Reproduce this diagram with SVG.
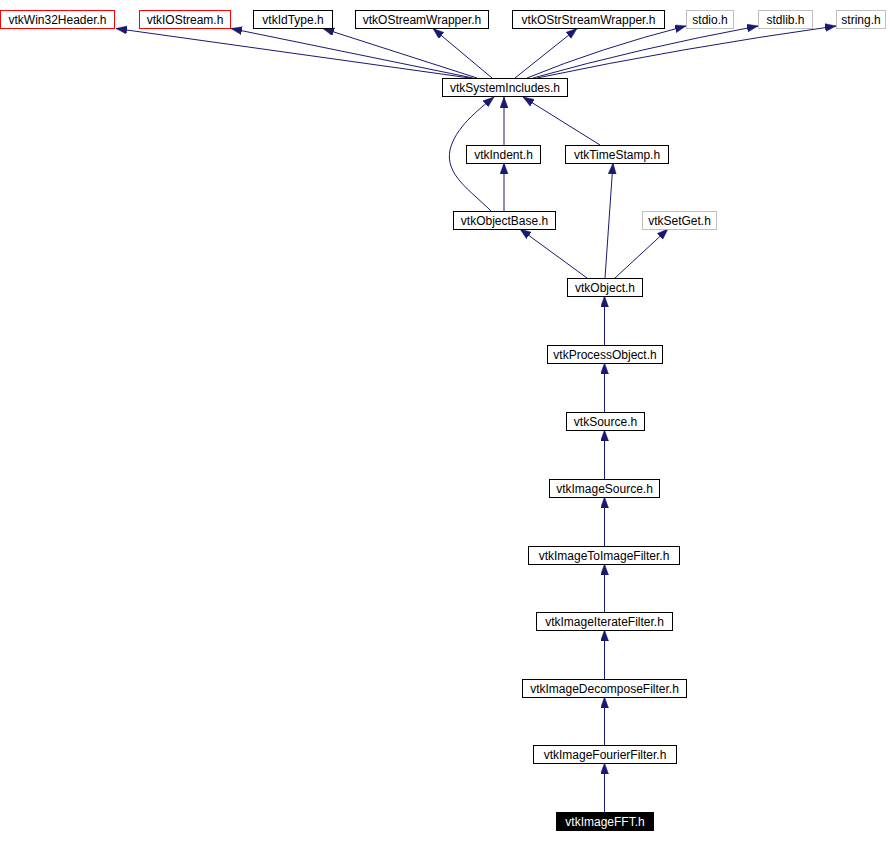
<svg xmlns="http://www.w3.org/2000/svg" width="890" height="842" viewBox="0 0 890 842">
<style>
.n rect{fill:#fff;stroke:#000;stroke-width:1}
.n.red rect{stroke:#ff0000}
.n.grey rect{stroke:#bfbfbf}
.n.cur rect{fill:#000;stroke:#000}
.n text{font-family:"Liberation Sans",Arial,sans-serif;font-size:12px;text-anchor:middle;fill:#000}
.n.cur text{fill:#fff}
#edges path{fill:none;stroke:#191970;stroke-width:1;marker-end:url(#arr)}
</style>
<defs>
<marker id="arr" markerUnits="userSpaceOnUse" markerWidth="12" markerHeight="10" refX="11" refY="4" orient="auto">
<path d="M0,0 L11,4 L0,8 z" fill="#191970" stroke="#191970" stroke-width="0.5"/>
</marker>
</defs>
<rect width="890" height="842" fill="#fff"/>
<g id="edges">
<path d="M470,78 L116,28.5"/>
<path d="M473,78 L231,28.5"/>
<path d="M477,78 L323,28.5"/>
<path d="M492,78 L433,28.5"/>
<path d="M515,78 L577,28.5"/>
<path d="M527,78 Q600,48 686,26"/>
<path d="M533,78 Q640,48 758,26"/>
<path d="M537,78 Q680,48 836,26"/>
<path d="M504,145 L504,97"/>
<path d="M600,145 L523,97"/>
<path d="M491,211 C470,190 445,175 450,150 C455,128 478,110 494,97"/>
<path d="M504,211 L504,163"/>
<path d="M587,278 L520,229"/>
<path d="M605,278 L613,163"/>
<path d="M615,278 L668,229"/>
<path d="M604.5,345 L604.5,296"/>
<path d="M604.5,412 L604.5,363"/>
<path d="M604.5,479 L604.5,430"/>
<path d="M604.5,546 L604.5,497"/>
<path d="M604.5,612 L604.5,564"/>
<path d="M604.5,679 L604.5,630"/>
<path d="M604.5,745 L604.5,697"/>
<path d="M604.5,812 L604.5,763"/>
</g>
<g id="vtkWin32Header" class="n red"><rect x="0.5" y="10.5" width="114" height="18"/><text x="57.5" y="24">vtkWin32Header.h</text></g>
<g id="vtkIOStream" class="n red"><rect x="139.5" y="10.5" width="91" height="18"/><text x="185" y="24">vtkIOStream.h</text></g>
<g id="vtkIdType" class="n"><rect x="253.5" y="10.5" width="79" height="18"/><text x="293" y="24">vtkIdType.h</text></g>
<g id="vtkOStreamWrapper" class="n"><rect x="355.5" y="10.5" width="133" height="18"/><text x="422" y="24">vtkOStreamWrapper.h</text></g>
<g id="vtkOStrStreamWrapper" class="n"><rect x="512.5" y="10.5" width="152" height="18"/><text x="588.5" y="24">vtkOStrStreamWrapper.h</text></g>
<g id="stdio" class="n grey"><rect x="686.5" y="10.5" width="47" height="18"/><text x="710" y="24">stdio.h</text></g>
<g id="stdlib" class="n grey"><rect x="758.5" y="10.5" width="54" height="18"/><text x="785.5" y="24">stdlib.h</text></g>
<g id="string" class="n grey"><rect x="836.5" y="10.5" width="49" height="18"/><text x="861" y="24">string.h</text></g>
<g id="vtkSystemIncludes" class="n"><rect x="442.5" y="78.5" width="125" height="18"/><text x="505" y="92">vtkSystemIncludes.h</text></g>
<g id="vtkIndent" class="n"><rect x="466.5" y="145.5" width="74" height="18"/><text x="503.5" y="159">vtkIndent.h</text></g>
<g id="vtkTimeStamp" class="n"><rect x="565.5" y="145.5" width="103" height="18"/><text x="617" y="159">vtkTimeStamp.h</text></g>
<g id="vtkObjectBase" class="n"><rect x="453.5" y="211.5" width="102" height="18"/><text x="504.5" y="225">vtkObjectBase.h</text></g>
<g id="vtkSetGet" class="n grey"><rect x="642.5" y="211.5" width="74" height="18"/><text x="679.5" y="225">vtkSetGet.h</text></g>
<g id="vtkObject" class="n"><rect x="567.5" y="278.5" width="75" height="18"/><text x="605" y="292">vtkObject.h</text></g>
<g id="vtkProcessObject" class="n"><rect x="547.5" y="345.5" width="115" height="18"/><text x="605" y="359">vtkProcessObject.h</text></g>
<g id="vtkSource" class="n"><rect x="566.5" y="412.5" width="78" height="18"/><text x="605.5" y="426">vtkSource.h</text></g>
<g id="vtkImageSource" class="n"><rect x="549.5" y="479.5" width="110" height="18"/><text x="604.5" y="493">vtkImageSource.h</text></g>
<g id="vtkImageToImageFilter" class="n"><rect x="528.5" y="546.5" width="151" height="18"/><text x="604" y="560">vtkImageToImageFilter.h</text></g>
<g id="vtkImageIterateFilter" class="n"><rect x="536.5" y="612.5" width="136" height="18"/><text x="604.5" y="626">vtkImageIterateFilter.h</text></g>
<g id="vtkImageDecomposeFilter" class="n"><rect x="522.5" y="679.5" width="164" height="18"/><text x="604.5" y="693">vtkImageDecomposeFilter.h</text></g>
<g id="vtkImageFourierFilter" class="n"><rect x="533.5" y="745.5" width="143" height="18"/><text x="605" y="759">vtkImageFourierFilter.h</text></g>
<g id="vtkImageFFT" class="n cur"><rect x="556.5" y="812.5" width="97" height="18"/><text x="605" y="826">vtkImageFFT.h</text></g>
</svg>
